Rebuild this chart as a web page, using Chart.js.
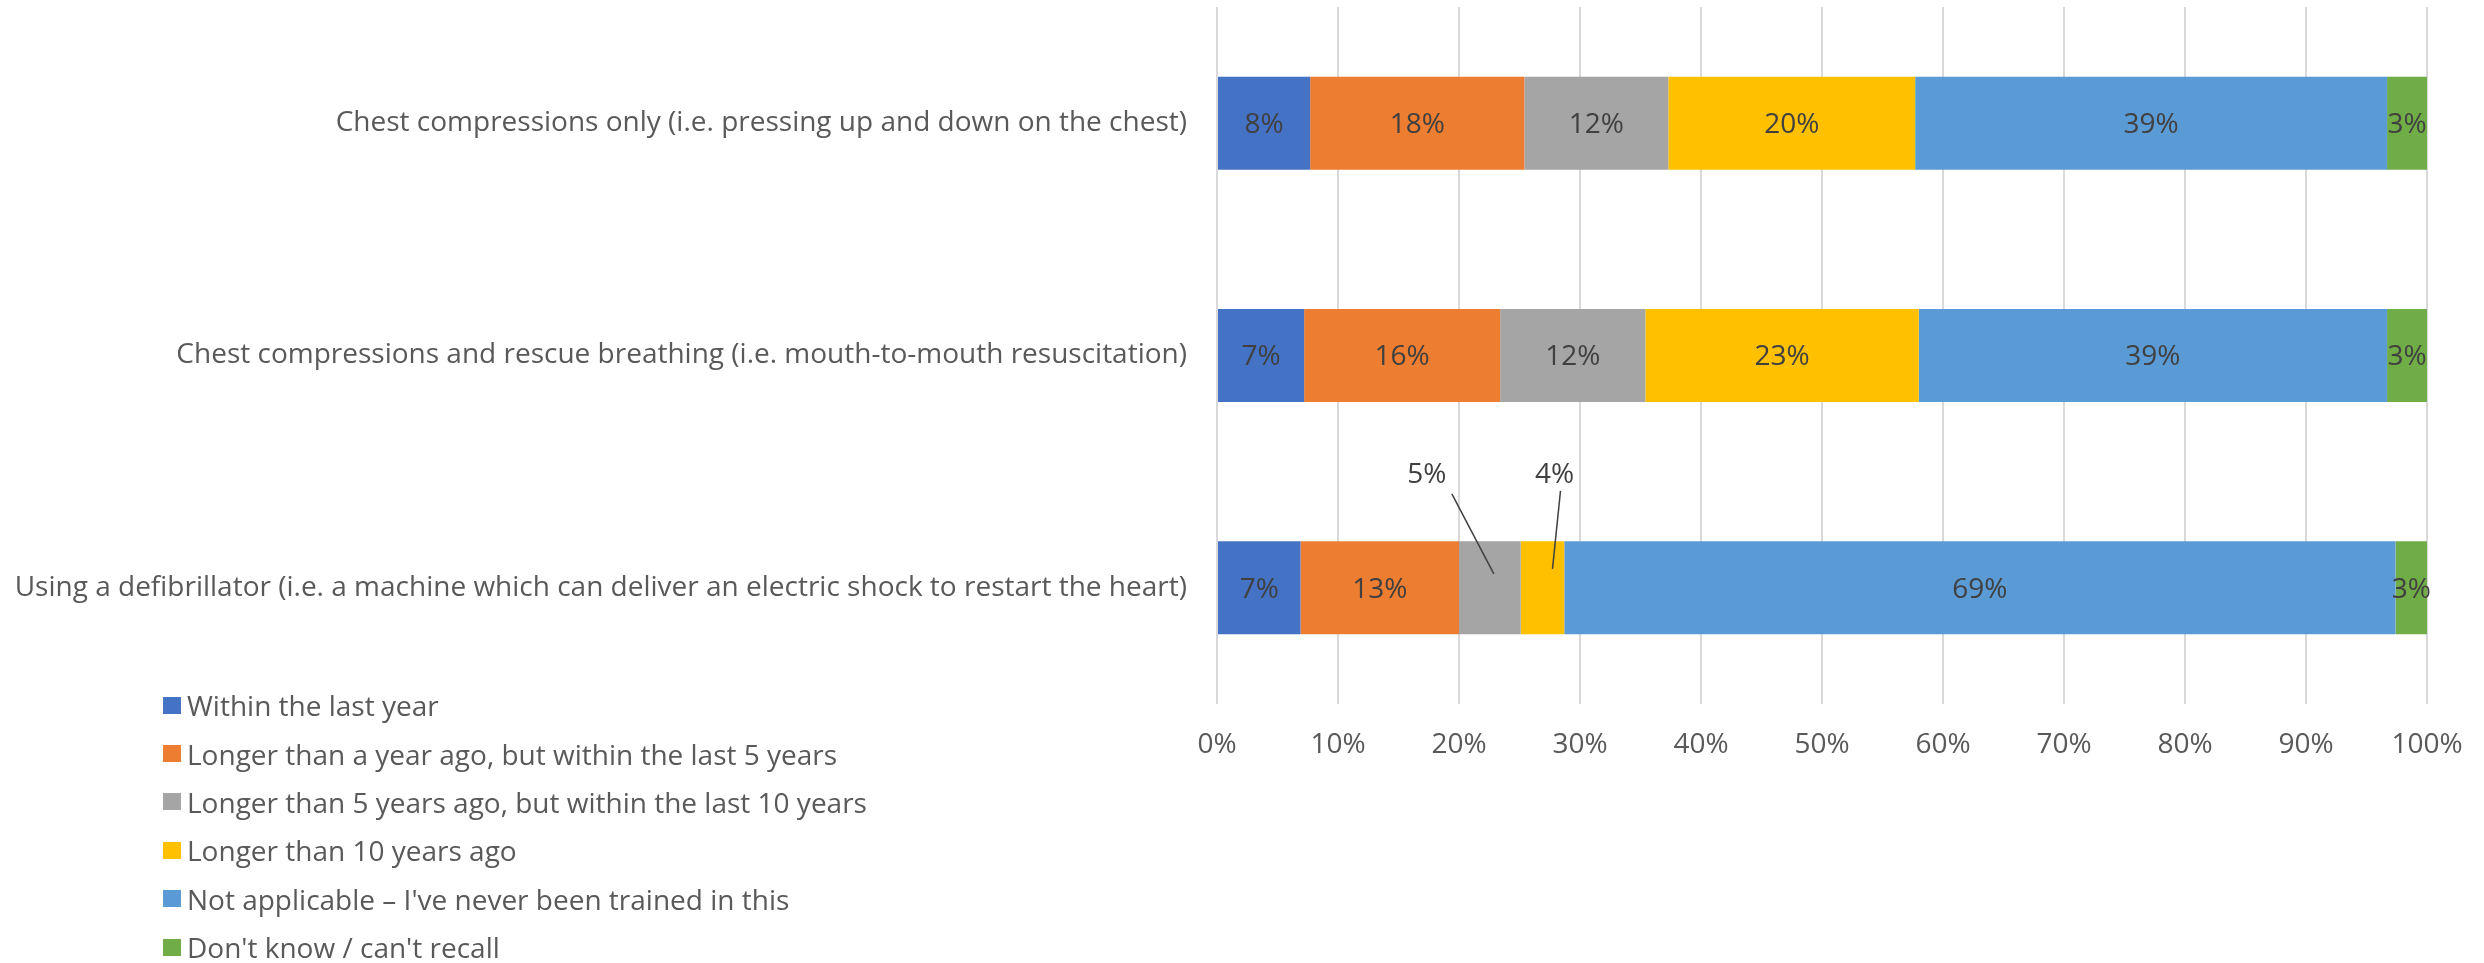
<!DOCTYPE html>
<html>
<head>
<meta charset="utf-8">
<title>CPR training</title>
<script src="https://cdn.jsdelivr.net/npm/chart.js@4.4.1/dist/chart.umd.min.js"></script>
<style>
  html, body { margin: 0; padding: 0; background: #fff; }
  #wrap { position: relative; width: 2484px; height: 963px; }
  #legend { position: absolute; left: 163px; top: 681px; font: 28px "Open Sans", sans-serif; color: #595959; }
  #legend .row { height: 48.4px; display: flex; align-items: center; white-space: nowrap; }
  #legend .box { width: 18px; height: 17px; margin-right: 6px; display: inline-block; }
</style>
</head>
<body>
<div id="wrap">
  <canvas id="chart"></canvas>
  <div id="legend"></div>
</div>
<script>
// --- data ---
const categories = [
  "Chest compressions only (i.e. pressing up and down on the chest)",
  "Chest compressions and rescue breathing (i.e. mouth-to-mouth resuscitation)",
  "Using a defibrillator (i.e. a machine which can deliver an electric shock to restart the heart)",
];
const seriesNames = [
  "Within the last year",
  "Longer than a year ago, but within the last 5 years",
  "Longer than 5 years ago, but within the last 10 years",
  "Longer than 10 years ago",
  "Not applicable \u2013 I've never been trained in this",
  "Don't know / can't recall",
];
const withinYear = [7.7, 7.2, 6.9];
const within5Years = [17.7, 16.2, 13.1];
const within10Years = [11.9, 12.0, 5.1];
const over10Years = [20.4, 22.6, 3.6];
const neverTrained = [39.0, 38.7, 68.7];
const dontKnow = [3.3, 3.3, 2.6];
const xTicks = [0, 10, 20, 30, 40, 50, 60, 70, 80, 90, 100];

const colors = ["#4472C4", "#ED7D31", "#A5A5A5", "#FFC000", "#5B9BD5", "#70AD47"];
const FONT = '"Open Sans", sans-serif';

// labels that sit outside their (too narrow) segment, offsets from segment centre
const callouts = {
  "2,2": { label: [-63, -113], from: [-38, -94], to: [4, -14] },
  "3,2": { label: [12, -113], from: [18, -97], to: [10, -19] },
};

// -----------------------------
// Value labels plugin
// -----------------------------
const valueLabels = {
  id: "valueLabels",
  afterDatasetsDraw(chart) {
    const ctx = chart.ctx;
    ctx.save();
    ctx.font = "28px " + FONT;
    ctx.fillStyle = "#404040";
    ctx.strokeStyle = "#404040";
    ctx.lineWidth = 1.5;
    ctx.textAlign = "center";
    ctx.textBaseline = "middle";
    chart.data.datasets.forEach((ds, di) => {
      chart.getDatasetMeta(di).data.forEach((bar, i) => {
        const text = Math.round(ds.data[i]) + "%";
        const cx = (bar.x + bar.base) / 2;
        const co = callouts[di + "," + i];
        if (co) {
          ctx.beginPath();
          ctx.moveTo(cx + co.from[0], bar.y + co.from[1]);
          ctx.lineTo(cx + co.to[0], bar.y + co.to[1]);
          ctx.stroke();
          ctx.fillText(text, cx + co.label[0], bar.y + co.label[1]);
        } else {
          ctx.fillText(text, cx, bar.y + 2);
        }
      });
    });
    ctx.restore();
  },
};

const seriesValues = [withinYear, within5Years, within10Years, over10Years, neverTrained, dontKnow];

const chart = new Chart(document.getElementById("chart"), {
  type: "bar",
  data: {
    labels: categories,
    datasets: seriesNames.map((name, k) => ({
      label: name,
      data: seriesValues[k],
      backgroundColor: colors[k],
      barPercentage: 0.4,
      categoryPercentage: 1.0,
    })),
  },
  options: {
    indexAxis: "y",
    responsive: true,
    maintainAspectRatio: false,
    animation: false,
    layout: { padding: { left: 0, right: 57, top: 7, bottom: 199 } },
    plugins: { legend: { display: false }, tooltip: { enabled: false } },
    scales: {
      x: {
        stacked: true,
        min: 0,
        max: 100,
        afterBuildTicks: (scale) => {
          scale.ticks = xTicks.map((v) => ({ value: v }));
        },
        afterFit: (scale) => {
          scale.height = 60;
          scale.paddingLeft = 0;
          scale.paddingRight = 0;
        },
        grid: { color: "#d9d9d9", lineWidth: 2, drawTicks: false },
        border: { display: false },
        ticks: {
          padding: 24,
          color: "#595959",
          font: { family: FONT, size: 28 },
          callback: (v) => v + "%",
        },
      },
      y: {
        stacked: true,
        afterFit: (scale) => {
          scale.width = 1217;
          scale.paddingTop = 0;
          scale.paddingBottom = 0;
        },
        grid: { display: false, drawTicks: false },
        border: { display: false },
        ticks: {
          padding: 30,
          color: "#595959",
          font: { family: FONT, size: 28 },
        },
      },
    },
  },
  plugins: [valueLabels],
});

// --- HTML legend ---
document.getElementById("legend").innerHTML = chart.data.datasets
  .map(
    (ds) => `
    <div class="row"><span class="box" style="background:${ds.backgroundColor}"></span>${ds.label}</div>`
  )
  .join("");
</script>
</body>
</html>
